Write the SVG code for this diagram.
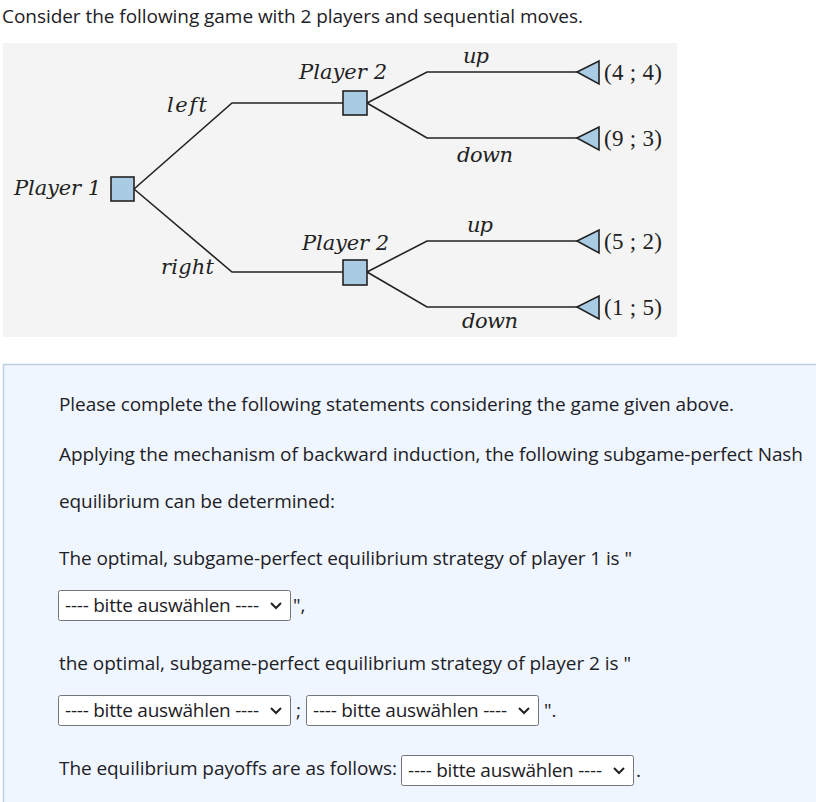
<svg xmlns="http://www.w3.org/2000/svg" width="816" height="802" viewBox="0 0 816 802">
<style>
.t{font-family:"Open Sans","Liberation Sans",sans-serif;font-size:19px;fill:#1d2125}
.m{font-family:"DejaVu Serif","Liberation Serif",serif;font-style:italic;font-size:21px;fill:#222}
.p{font-family:"Liberation Serif","DejaVu Serif",serif;font-size:23px;fill:#222}
.ln{fill:none;stroke:#222;stroke-width:1.6}
.nd{fill:#a9cbe4;stroke:#222;stroke-width:1.6}
.sel{fill:#fff;stroke:#767676;stroke-width:1}
.chev{fill:none;stroke:#222;stroke-width:2}
</style>
<rect width="816" height="802" fill="#fff"/>
<text class="t" x="2" y="23" textLength="581">Consider the following game with 2 players and sequential moves.</text>
<rect x="3" y="43" width="674" height="294" fill="#f4f4f4"/>
<g id="connectors">
<polyline class="ln" points="134,189 232,103 343,103"/>
<polyline class="ln" points="134,189 232,272 343,272"/>
<polyline class="ln" points="367,103 427,72 577,72"/>
<polyline class="ln" points="367,103 427,138 577,138"/>
<polyline class="ln" points="367,272 427,241 577,241"/>
<polyline class="ln" points="367,272 427,307 577,307"/>
<text class="m" x="167" y="112" textLength="40">left</text>
<text class="m" x="161" y="274" textLength="53">right</text>
<text class="m" x="463" y="63" textLength="26">up</text>
<text class="m" x="457" y="162" textLength="56">down</text>
<text class="m" x="467" y="232" textLength="26">up</text>
<text class="m" x="462" y="328" textLength="56">down</text>
</g>
<g id="player1">
<rect class="nd" x="111" y="177" width="23" height="24"/>
<text class="m" x="14" y="195" textLength="87">Player 1</text>
</g>
<g id="player2-top">
<rect class="nd" x="343" y="91" width="24" height="24"/>
<text class="m" x="299" y="79" textLength="88">Player 2</text>
</g>
<g id="player2-bottom">
<rect class="nd" x="343" y="260" width="24" height="25"/>
<text class="m" x="302" y="250" textLength="87">Player 2</text>
</g>
<g id="payoff-44">
<polygon class="nd" points="577,72 599,61 599,84"/>
<text class="p" x="604" y="80" textLength="58">(4 ; 4)</text>
</g>
<g id="payoff-93">
<polygon class="nd" points="577,138 599,127 599,150"/>
<text class="p" x="604" y="146" textLength="58">(9 ; 3)</text>
</g>
<g id="payoff-52">
<polygon class="nd" points="577,241 599,230 599,253"/>
<text class="p" x="604" y="249" textLength="58">(5 ; 2)</text>
</g>
<g id="payoff-15">
<polygon class="nd" points="577,307 599,296 599,319"/>
<text class="p" x="604" y="315" textLength="58">(1 ; 5)</text>
</g>
<rect x="3.5" y="364.5" width="814" height="440" fill="#f0f6ff" stroke="#bcd0e3" stroke-width="1.5"/>
<text class="t" x="59" y="411" textLength="675">Please complete the following statements considering the game given above.</text>
<text class="t" x="59" y="461" textLength="744">Applying the mechanism of backward induction, the following subgame-perfect Nash</text>
<text class="t" x="59" y="508" textLength="276">equilibrium can be determined:</text>
<text class="t" x="59" y="565" textLength="573">The optimal, subgame-perfect equilibrium strategy of player 1 is "</text>
<g id="select1">
<rect class="sel" x="58.5" y="590.5" width="232" height="30" rx="2"/>
<text class="t" x="65" y="612" textLength="194">---- bitte auswählen ----</text>
<polyline class="chev" points="271,603 276,608 281,603"/>
</g>
<text class="t" x="293" y="612">",</text>
<text class="t" x="59" y="670" textLength="572">the optimal, subgame-perfect equilibrium strategy of player 2 is "</text>
<g id="select2">
<rect class="sel" x="58.5" y="695.5" width="232" height="30" rx="2"/>
<text class="t" x="65" y="717" textLength="194">---- bitte auswählen ----</text>
<polyline class="chev" points="271,708 276,713 281,708"/>
</g>
<text class="t" x="296" y="717">;</text>
<g id="select3">
<rect class="sel" x="306.5" y="695.5" width="232" height="30" rx="2"/>
<text class="t" x="313" y="717" textLength="194">---- bitte auswählen ----</text>
<polyline class="chev" points="519,708 524,713 529,708"/>
</g>
<text class="t" x="544" y="717">".</text>
<text class="t" x="59" y="775" textLength="338">The equilibrium payoffs are as follows:</text>
<g id="select4">
<rect class="sel" x="401.5" y="755.5" width="232" height="30" rx="2"/>
<text class="t" x="408" y="777" textLength="194">---- bitte auswählen ----</text>
<polyline class="chev" points="614,768 619,773 624,768"/>
</g>
<text class="t" x="636" y="777">.</text>
</svg>
